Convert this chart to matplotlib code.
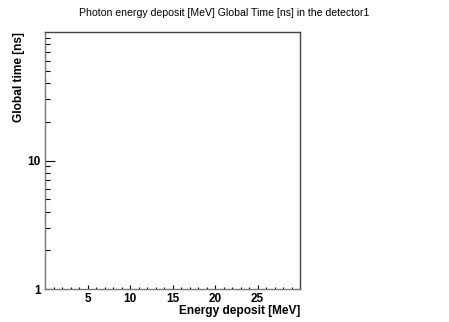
import numpy as np
import matplotlib
matplotlib.use('Agg')
import matplotlib.pyplot as plt
from matplotlib.ticker import FixedLocator, LogLocator, NullFormatter, MultipleLocator

# empty histogram: no entries recorded
energy_mev = np.array([])
time_ns = np.array([])
x_range = [0, 30]
y_range = [1, 100]
x_ticks = [5, 10, 15, 20, 25]
y_ticks = [1, 10]

plt.rcParams['font.family'] = ['Liberation Sans', 'DejaVu Sans']

fig = plt.figure(figsize=(4.49, 3.22), dpi=100)
ax = fig.add_axes([45 / 449, 1 - 289 / 322, 255 / 449, 257 / 322])

ax.scatter(energy_mev, time_ns, s=2, color='black')
ax.set_yscale('log')
ax.set_xlim(*x_range)
ax.set_ylim(*y_range)

ax.xaxis.set_major_locator(FixedLocator(x_ticks))
ax.xaxis.set_minor_locator(MultipleLocator(1))
ax.yaxis.set_major_locator(FixedLocator(y_ticks))
ax.yaxis.set_minor_locator(LogLocator(base=10, subs=np.arange(2, 10)))
ax.yaxis.set_minor_formatter(NullFormatter())
ax.set_xticklabels([str(t) for t in x_ticks])
ax.set_yticklabels([str(t) for t in y_ticks])

ax.tick_params(which='both', direction='in', labelsize=8.5, width=0.8)
ax.tick_params(axis='x', which='major', length=3, pad=3)
ax.tick_params(axis='x', which='minor', length=1.5)
ax.tick_params(axis='y', which='major', length=7.2, pad=3)
ax.tick_params(axis='y', which='minor', length=3.6)
for lbl in ax.get_xticklabels() + ax.get_yticklabels():
    lbl.set_fontweight('bold')

ax.spines['left'].set_color('#777777')
ax.spines['bottom'].set_color('#777777')
ax.spines['top'].set_color('#444444')
ax.spines['right'].set_color('#444444')
for sp in ax.spines.values():
    sp.set_linewidth(1.0)

fig.text(0.5, 1 - 13 / 322, 'Photon energy deposit [MeV] Global Time [ns] in the detector1',
         ha='center', va='center', fontsize=7.6)
ax.set_xlabel('Energy deposit [MeV]', fontsize=8.6, fontweight='bold', loc='right', labelpad=0)
ax.set_ylabel('Global time [ns]', fontsize=8.6, fontweight='bold', loc='top', labelpad=2)

fig.savefig('out.png', dpi=100)
